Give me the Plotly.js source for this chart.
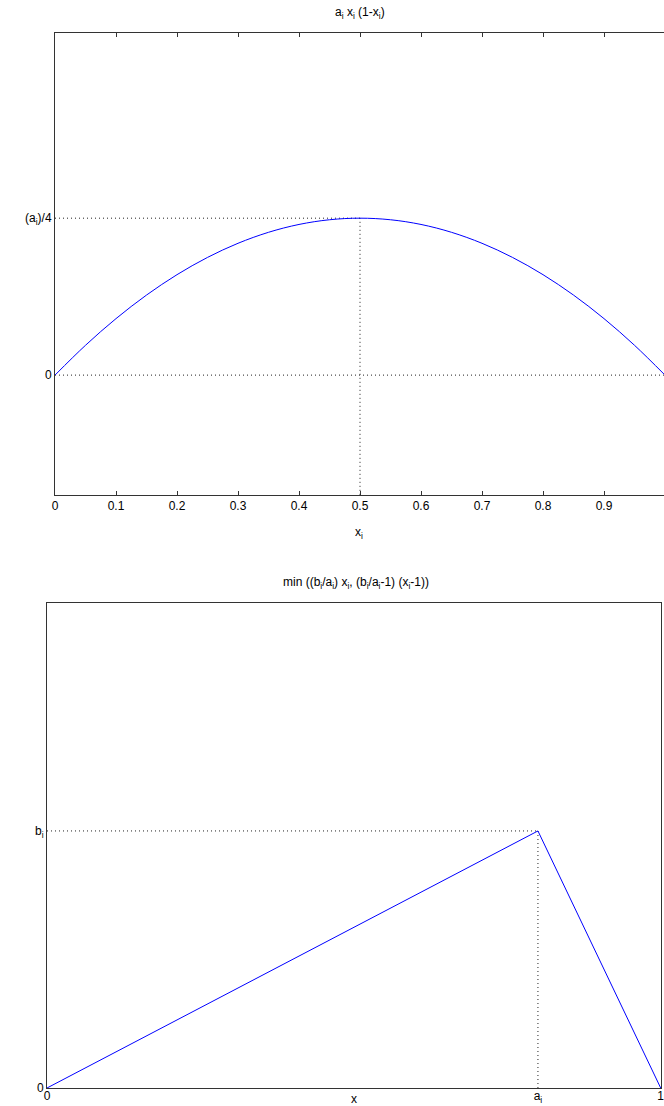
<!DOCTYPE html>
<html>
<head>
<meta charset="utf-8">
<script src="https://cdn.plot.ly/plotly-3.0.1.min.js"></script>
<style>html,body{margin:0;padding:0;background:#fff;}#plot{width:664px;height:1106px;}</style>
</head>
<body>
<div id="plot"></div>
<script>
// Upper panel: a_i x_i (1 - x_i), drawn with a_i = 1
const xCurve = [0, 0.05, 0.1, 0.15, 0.2, 0.25, 0.3, 0.35, 0.4, 0.45, 0.5, 0.55, 0.6, 0.65, 0.7, 0.75, 0.8, 0.85, 0.9, 0.95, 1];
const yCurve = [0, 0.0475, 0.09, 0.1275, 0.16, 0.1875, 0.21, 0.2275, 0.24, 0.2475, 0.25, 0.2475, 0.24, 0.2275, 0.21, 0.1875, 0.16, 0.1275, 0.09, 0.0475, 0];
const peakX = 0.5;
const peakY = 0.25;
const topXTicks = [0, 0.1, 0.2, 0.3, 0.4, 0.5, 0.6, 0.7, 0.8, 0.9];
const topYTicks = [0, 0.25];
const topYLabels = ['0', '(a<sub>i</sub>)/4'];

// Lower panel: min((b_i/a_i) x_i, (b_i/a_i - 1)(x_i - 1))
const aVal = 0.8;
const bVal = 0.53;
const xTent = [0, aVal, 1];
const yTent = [0, bVal, 0];
const botXTicks = [0, aVal, 1];
const botXLabels = ['0', 'a<sub>i</sub>', '1'];
const botYTicks = [0, bVal];
const botYLabels = ['0', 'b<sub>i</sub>'];

const W = 664, H = 1106;
const px = v => v / W;
const py = v => (H - v) / H;

const font = {family: 'Liberation Sans, Arial, sans-serif', size: 12, color: '#000'};
const blue = '#0000ff';
const dot = {color: '#222', width: 1, dash: '1px,3px'};

const traces = [
  // upper panel guides
  {x: [0, 1], y: [0, 0], xaxis: 'x', yaxis: 'y', mode: 'lines', line: dot, hoverinfo: 'skip'},
  {x: [0, peakX], y: [peakY, peakY], xaxis: 'x', yaxis: 'y', mode: 'lines', line: dot, hoverinfo: 'skip'},
  {x: [peakX, peakX], y: [-1, peakY], xaxis: 'x', yaxis: 'y', mode: 'lines', line: dot, hoverinfo: 'skip'},
  {x: xCurve, y: yCurve, xaxis: 'x', yaxis: 'y', mode: 'lines', line: {color: blue, width: 1, shape: 'spline'}},
  // lower panel guides
  {x: [0, aVal], y: [bVal, bVal], xaxis: 'x2', yaxis: 'y2', mode: 'lines', line: dot, hoverinfo: 'skip'},
  {x: [aVal, aVal], y: [0, bVal], xaxis: 'x2', yaxis: 'y2', mode: 'lines', line: dot, hoverinfo: 'skip'},
  {x: xTent, y: yTent, xaxis: 'x2', yaxis: 'y2', mode: 'lines', line: {color: blue, width: 1}}
];

const axBase = {
  showgrid: false, zeroline: false, showline: true, linecolor: '#333', linewidth: 1,
  mirror: true, ticks: '', tickfont: font, fixedrange: true, ticklabeloverflow: 'allow'
};

const layout = {
  width: W, height: H,
  margin: {l: 0, r: 0, t: 0, b: 0},
  paper_bgcolor: '#fff', plot_bgcolor: '#fff',
  showlegend: false,
  font: font,
  xaxis: Object.assign({}, axBase, {
    domain: [px(55), 1], range: [0, (W - 55) / 610], anchor: 'y',
    mirror: 'ticks', ticks: 'inside', ticklen: 4, tickcolor: '#333', tickwidth: 1,
    tickmode: 'array', tickvals: topXTicks, ticktext: topXTicks.map(String)
  }),
  yaxis: Object.assign({}, axBase, {
    domain: [py(495), py(33)], range: [-0.191, 0.545], anchor: 'x',
    tickmode: 'array', tickvals: topYTicks, ticktext: topYLabels
  }),
  xaxis2: Object.assign({}, axBase, {
    domain: [px(47), px(661)], range: [0, 1.0005], anchor: 'y2',
    ticklabelstandoff: -3,
    tickmode: 'array', tickvals: botXTicks, ticktext: botXLabels
  }),
  yaxis2: Object.assign({}, axBase, {
    domain: [py(1088), py(603)], range: [0, 1], anchor: 'x2',
    tickmode: 'array', tickvals: botYTicks, ticktext: botYLabels
  }),
  annotations: [
    {text: 'a<sub>i</sub> x<sub>i</sub> (1-x<sub>i</sub>)', xref: 'paper', yref: 'paper',
     x: px(360), y: py(13), xanchor: 'center', yanchor: 'middle', showarrow: false, font: font},
    {text: 'x<sub>i</sub>', xref: 'paper', yref: 'paper',
     x: px(359), y: py(533), xanchor: 'center', yanchor: 'middle', showarrow: false, font: font},
    {text: 'min ((b<sub>i</sub>/a<sub>i</sub>) x<sub>i</sub>, (b<sub>i</sub>/a<sub>i</sub>-1) (x<sub>i</sub>-1))', xref: 'paper', yref: 'paper',
     x: px(356), y: py(583), xanchor: 'center', yanchor: 'middle', showarrow: false, font: font},
    {text: 'x', xref: 'paper', yref: 'paper',
     x: px(354), y: py(1099), xanchor: 'center', yanchor: 'middle', showarrow: false, font: font}
  ]
};

Plotly.newPlot('plot', traces, layout, {displayModeBar: false, staticPlot: true});
</script>
</body>
</html>
